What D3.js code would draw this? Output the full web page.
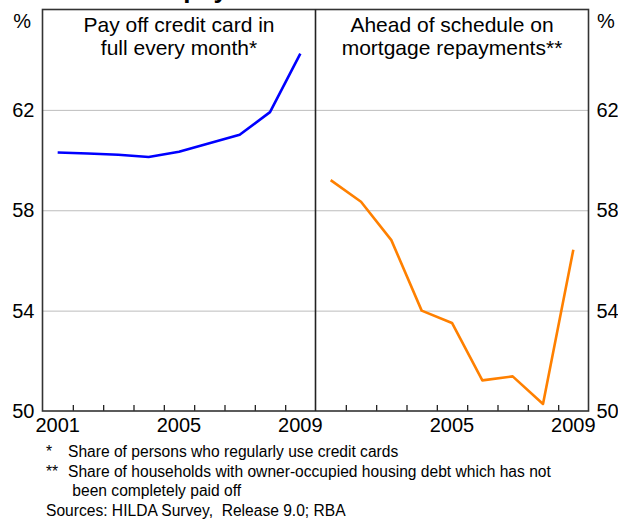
<!DOCTYPE html>
<html>
<head>
<meta charset="utf-8">
<script src="https://cdn.jsdelivr.net/npm/d3@7"></script>
<style>
  body { margin: 0; background: #fff; }
  svg { display: block; font-family: "Liberation Sans", Arial, sans-serif; }
  .domain { display: none; }
  .note { white-space: pre; font-size: 15.6px; }
</style>
</head>
<body>
<div id="chart"></div>
<script>
var years = [2001, 2002, 2003, 2004, 2005, 2006, 2007, 2008, 2009];
var creditCard = [60.3, 60.26, 60.21, 60.12, 60.33, 60.67, 61.01, 61.91, 64.24];
var mortgage = [59.2, 58.34, 56.81, 54.0, 53.51, 51.22, 51.38, 50.28, 56.43];
var yTicks = [50, 54, 58, 62];
var leftYearLabels = [2001, 2005, 2009];
var rightYearLabels = [2005, 2009];
var panelTitles = [["Pay off credit card in", "full every month*"], ["Ahead of schedule on", "mortgage repayments**"]];
var notes = [
  ["*", "Share of persons who regularly use credit cards"],
  ["**", "Share of households with owner-occupied housing debt which has not"],
  ["", " been completely paid off"]
];
var sources = "Sources: HILDA Survey,  Release 9.0; RBA";

var W = 618, H = 522;
var xL = 42.5, xM = 315.5, xR = 588.5, yT = 9.5, yB = 411;

var svg = d3.select('#chart').append('svg').attr('width', W).attr('height', H);

// title cut off at top edge, only descenders show
svg.append('text').attr('x', 150).attr('y', -2).style('font', 'bold 26px "Liberation Sans", Arial')
  .attr('fill', '#000').text('Repayments');

var yScale = d3.scaleLinear().domain([50, 66]).range([yB, yT]);

// gridlines
svg.append('g').attr('transform', 'translate(' + xL + ',0)')
  .call(d3.axisLeft(yScale).tickValues([54, 58, 62]).tickSize(-(xR - xL)).tickFormat(''))
  .selectAll('line').attr('stroke', '#bdbdbd').attr('stroke-width', 1);

function drawPanel(x0, x1, values, color, labels, titles) {
  var xBand = d3.scaleBand().domain(years).range([x0, x1]);
  var xEdge = d3.scaleLinear().domain([0, years.length]).range([x0, x1]);

  svg.append('g').attr('transform', 'translate(0,' + yB + ')')
    .call(d3.axisBottom(xEdge).tickValues(d3.range(1, years.length)).tickSize(-6).tickFormat(''))
    .selectAll('line').attr('stroke', '#222').attr('stroke-width', 1.3);

  var lab = svg.append('g').attr('transform', 'translate(0,' + yB + ')')
    .call(d3.axisBottom(xBand).tickValues(labels).tickSize(0).tickPadding(7));
  lab.selectAll('text').style('font-size', '20px').attr('fill', '#000');

  svg.append('path').datum(values)
    .attr('fill', 'none').attr('stroke', color).attr('stroke-width', 2.6)
    .attr('stroke-linejoin', 'round')
    .attr('d', d3.line()
      .x(function(d, i) { return xBand(years[i]) + xBand.bandwidth() / 2 })
      .y(function(d) { return yScale(d) }));

  titles.forEach(function(t, i) {
    svg.append('text').attr('x', (x0 + x1) / 2).attr('y', 32 + i * 23)
      .attr('text-anchor', 'middle').style('font-size', '21px').attr('fill', '#000').text(t);
  });
}

drawPanel(xL, xM, creditCard, '#0000ff', leftYearLabels, panelTitles[0]);
drawPanel(xM, xR, mortgage, '#ff8000', rightYearLabels, panelTitles[1]);

// y labels both sides
var yl = svg.append('g').attr('transform', 'translate(' + xL + ',0)')
  .call(d3.axisLeft(yScale).tickValues(yTicks).tickSize(0).tickPadding(8));
yl.selectAll('text').style('font-size', '20px').attr('fill', '#000');
var yr = svg.append('g').attr('transform', 'translate(' + xR + ',0)')
  .call(d3.axisRight(yScale).tickValues(yTicks).tickSize(0).tickPadding(8));
yr.selectAll('text').style('font-size', '20px').attr('fill', '#000');

svg.append('text').attr('x', 31).attr('y', 28).attr('text-anchor', 'end').style('font-size', '20px').text('%');
svg.append('text').attr('x', 597).attr('y', 28).style('font-size', '20px').text('%');

// frame and divider
svg.append('rect').attr('x', xL).attr('y', yT).attr('width', xR - xL).attr('height', yB - yT)
  .attr('fill', 'none').attr('stroke', '#333').attr('stroke-width', 1.6);
svg.append('line').attr('x1', xM).attr('x2', xM).attr('y1', yT).attr('y2', yB)
  .attr('stroke', '#222').attr('stroke-width', 1.6);

// notes
notes.forEach(function(n, i) {
  svg.append('text').attr('class', 'note').attr('x', 46).attr('y', 457 + i * 19.5).text(n[0]);
  svg.append('text').attr('class', 'note').attr('x', 68).attr('y', 457 + i * 19.5).text(n[1]);
});
svg.append('text').attr('class', 'note').attr('x', 46).attr('y', 516).text(sources);
</script>
</body>
</html>
